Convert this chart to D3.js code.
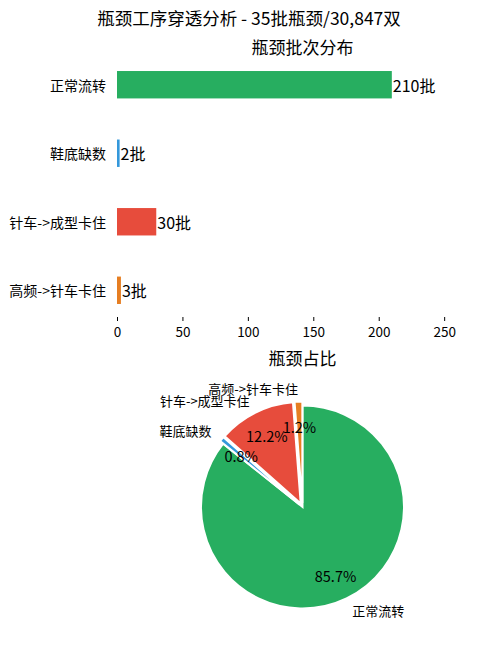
<!DOCTYPE html>
<html lang="zh">

<head>
    <meta charset="UTF-8">
    <title>瓶颈工序穿透分析</title>
    <style>
        body {
            margin: 0;
            background: #fff;
        }

        text {
            font-family: "Noto Sans CJK SC", "Noto Sans", sans-serif;
            fill: #000;
        }
    </style>
</head>

<body>
    <div id="chart"></div>

    <script src="https://d3js.org/d3.v7.min.js"></script>
    <script>
        // Data
        const categories = ["正常流转", "鞋底缺数", "针车->成型卡住", "高频->针车卡住"];
        const batchCounts = [210, 2, 30, 3];
        const barColors = ["#27ae60", "#3498db", "#e74c3c", "#e67e22"];
        const xTicks = [0, 50, 100, 150, 200, 250];
        const explodeFlags = [0, 1, 1, 1];

        const W = 497, H = 645;

        const svg = d3.select("#chart")
            .append("svg")
            .attr("width", W)
            .attr("height", H);

        // Main title
        svg.append("text")
            .attr("x", 249)
            .attr("y", 17)
            .attr("text-anchor", "middle")
            .attr("dominant-baseline", "central")
            .style("font-size", "17.5px")
            .text("瓶颈工序穿透分析 - 35批瓶颈/30,847双");

        // ---- bar chart ----
        const bar = { left: 117, right: 488, top: 58, bottom: 317 };

        const x = d3.scaleLinear()
            .domain([0, d3.max(batchCounts) * 1.35])
            .range([bar.left, bar.right]);

        const y = d3.scaleLinear()
            .domain([-0.39, categories.length - 1 + 0.39])
            .range([bar.top, bar.bottom]);

        const barH = y(0.4) - y(0);

        svg.append("text")
            .attr("x", (bar.left + bar.right) / 2)
            .attr("y", 46)
            .attr("text-anchor", "middle")
            .attr("dominant-baseline", "central")
            .style("font-size", "17px")
            .text("瓶颈批次分布");

        svg.selectAll(".bar")
            .data(batchCounts)
            .enter().append("rect")
            .attr("class", "bar")
            .attr("x", x(0))
            .attr("y", (d, i) => y(i) - barH / 2)
            .attr("width", d => x(d) - x(0))
            .attr("height", barH)
            .attr("fill", (d, i) => barColors[i]);

        // value labels at bar ends
        svg.selectAll(".val")
            .data(batchCounts)
            .enter().append("text")
            .attr("class", "val")
            .attr("x", d => x(d) + 1)
            .attr("y", (d, i) => y(i))
            .attr("dominant-baseline", "central")
            .style("font-size", "16px")
            .text(d => d + "批");

        // category labels (no tick marks)
        svg.selectAll(".cat")
            .data(categories)
            .enter().append("text")
            .attr("class", "cat")
            .attr("x", bar.left - 11)
            .attr("y", (d, i) => y(i))
            .attr("text-anchor", "end")
            .attr("dominant-baseline", "central")
            .style("font-size", "14px")
            .text(d => d);

        // x axis
        const xAxis = svg.append("g")
            .attr("transform", `translate(0,${bar.bottom})`)
            .call(d3.axisBottom(x).tickValues(xTicks).tickSize(4).tickPadding(6));
        xAxis.select(".domain").remove();
        xAxis.selectAll(".tick line").attr("stroke", "#000");
        xAxis.selectAll(".tick text")
            .style("font-family", '"Noto Sans CJK SC", "Noto Sans", sans-serif')
            .style("font-size", "13.5px")
            .attr("fill", "#000");

        // ---- pie chart ----
        const cx = 302.5, cy = 507, r = 101.5;
        const explode = 4;

        svg.append("text")
            .attr("x", cx)
            .attr("y", 357)
            .attr("text-anchor", "middle")
            .attr("dominant-baseline", "central")
            .style("font-size", "17px")
            .text("瓶颈占比");

        const total = d3.sum(batchCounts);
        const pie = d3.pie().sort(null).value(d => d)(batchCounts);
        const arc = d3.arc().innerRadius(0).outerRadius(r);

        const offset = (d, i, dist) => {
            const m = (d.startAngle + d.endAngle) / 2;
            const e = explodeFlags[i] * explode + dist;
            return [cx + e * Math.sin(m), cy - e * Math.cos(m)];
        };

        svg.selectAll(".slice")
            .data(pie)
            .enter().append("path")
            .attr("class", "slice")
            .attr("d", arc)
            .attr("transform", (d, i) => `translate(${offset(d, i, 0)})`)
            .attr("fill", (d, i) => barColors[i])
            .attr("stroke", "#fff")
            .attr("stroke-width", 2);

        // percentages
        svg.selectAll(".pct")
            .data(pie)
            .enter().append("text")
            .attr("class", "pct")
            .attr("x", (d, i) => offset(d, i, 0.75 * r)[0])
            .attr("y", (d, i) => offset(d, i, 0.75 * r)[1])
            .attr("text-anchor", "middle")
            .attr("dominant-baseline", "central")
            .style("font-size", "14.5px")
            .text(d => (d.value / total * 100).toFixed(1) + "%");

        // outer labels
        svg.selectAll(".plabel")
            .data(pie)
            .enter().append("text")
            .attr("class", "plabel")
            .attr("x", (d, i) => offset(d, i, 1.13 * r)[0])
            .attr("y", (d, i) => offset(d, i, 1.13 * r)[1])
            .attr("text-anchor", (d, i) => offset(d, i, 1.13 * r)[0] > cx ? "start" : "end")
            .attr("dominant-baseline", "central")
            .style("font-size", "13px")
            .text((d, i) => categories[i]);
    </script>
</body>

</html>
